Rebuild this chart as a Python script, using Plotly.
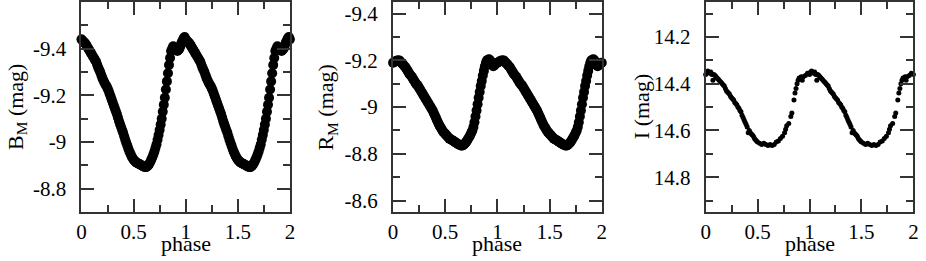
import plotly.graph_objects as go

# ---- data (one cycle; plotted twice over phase 0-2) ----
phase_BR = [0.00, 0.01, 0.02, 0.03, 0.04, 0.05, 0.06, 0.07, 0.08, 0.09,
            0.10, 0.11, 0.12, 0.13, 0.14, 0.15, 0.16, 0.17, 0.18, 0.19,
            0.20, 0.21, 0.22, 0.23, 0.24, 0.25, 0.26, 0.27, 0.28, 0.29,
            0.30, 0.31, 0.32, 0.33, 0.34, 0.35, 0.36, 0.37, 0.38, 0.39,
            0.40, 0.41, 0.42, 0.43, 0.44, 0.45, 0.46, 0.47, 0.48, 0.49,
            0.50, 0.51, 0.52, 0.53, 0.54, 0.55, 0.56, 0.57, 0.58, 0.59,
            0.60, 0.61, 0.62, 0.63, 0.64, 0.65, 0.66, 0.67, 0.68, 0.69,
            0.70, 0.71, 0.72, 0.73, 0.74, 0.75, 0.76, 0.77, 0.78, 0.79,
            0.80, 0.81, 0.82, 0.83, 0.84, 0.85, 0.86, 0.87, 0.88, 0.89,
            0.90, 0.91, 0.92, 0.93, 0.94, 0.95, 0.96, 0.97, 0.98, 0.99]
mag_B = [-9.44, -9.435, -9.43, -9.425, -9.42, -9.412, -9.405, -9.397, -9.39, -9.382,
         -9.375, -9.367, -9.36, -9.352, -9.345, -9.332, -9.32, -9.31, -9.30, -9.287,
         -9.275, -9.265, -9.255, -9.247, -9.24, -9.23, -9.22, -9.207, -9.195, -9.182,
         -9.17, -9.157, -9.145, -9.132, -9.12, -9.105, -9.09, -9.077, -9.065, -9.052,
         -9.04, -9.025, -9.01, -8.997, -8.985, -8.972, -8.96, -8.95, -8.94, -8.932,
         -8.925, -8.92, -8.915, -8.912, -8.91, -8.907, -8.905, -8.902, -8.90, -8.897,
         -8.895, -8.894, -8.893, -8.896, -8.90, -8.907, -8.915, -8.925, -8.935, -8.947,
         -8.96, -8.975, -8.99, -9.01, -9.03, -9.052, -9.075, -9.10, -9.13, -9.16,
         -9.19, -9.225, -9.26, -9.295, -9.33, -9.36, -9.39, -9.40, -9.41, -9.405,
         -9.40, -9.395, -9.39, -9.395, -9.40, -9.412, -9.425, -9.435, -9.445, -9.45]
mag_R = [-9.19, -9.192, -9.195, -9.197, -9.20, -9.20, -9.20, -9.195, -9.19, -9.185,
         -9.18, -9.175, -9.17, -9.162, -9.155, -9.147, -9.14, -9.135, -9.13, -9.122,
         -9.115, -9.107, -9.10, -9.095, -9.09, -9.082, -9.075, -9.067, -9.06, -9.052,
         -9.045, -9.037, -9.03, -9.022, -9.015, -9.007, -9.00, -8.992, -8.985, -8.975,
         -8.965, -8.955, -8.945, -8.935, -8.925, -8.917, -8.91, -8.902, -8.895, -8.89,
         -8.885, -8.88, -8.875, -8.87, -8.865, -8.862, -8.86, -8.857, -8.855, -8.851,
         -8.848, -8.845, -8.842, -8.84, -8.838, -8.836, -8.835, -8.837, -8.84, -8.845,
         -8.85, -8.857, -8.865, -8.872, -8.88, -8.89, -8.90, -8.915, -8.935, -8.96,
         -8.985, -9.012, -9.04, -9.065, -9.09, -9.112, -9.135, -9.155, -9.175, -9.19,
         -9.20, -9.203, -9.205, -9.20, -9.19, -9.18, -9.175, -9.178, -9.185, -9.188]

phase_I = [0.00, 0.01, 0.02, 0.03, 0.04, 0.05, 0.06, 0.07, 0.08, 0.09,
           0.10, 0.11, 0.12, 0.13, 0.14, 0.15, 0.16, 0.17, 0.18, 0.19,
           0.20, 0.21, 0.22, 0.23, 0.24, 0.25, 0.26, 0.27, 0.28, 0.29,
           0.30, 0.31, 0.32, 0.33, 0.34, 0.35, 0.36, 0.37, 0.38, 0.39,
           0.40, 0.41, 0.42, 0.43, 0.44, 0.45, 0.46, 0.47, 0.48, 0.49,
           0.50, 0.52, 0.54, 0.56, 0.58, 0.60, 0.62, 0.64, 0.66, 0.68,
           0.70, 0.72, 0.74, 0.76, 0.77, 0.78, 0.80, 0.82, 0.83, 0.85,
           0.86, 0.87, 0.88, 0.89, 0.90, 0.92, 0.93, 0.94, 0.96, 0.98]
mag_I = [14.36, 14.35, 14.345, 14.35, 14.355, 14.35, 14.36, 14.385, 14.36, 14.365,
         14.37, 14.375, 14.38, 14.385, 14.39, 14.395, 14.40, 14.405, 14.41, 14.42,
         14.43, 14.435, 14.44, 14.445, 14.455, 14.46, 14.465, 14.47, 14.48, 14.485,
         14.49, 14.50, 14.505, 14.515, 14.52, 14.535, 14.545, 14.555, 14.565, 14.575,
         14.585, 14.61, 14.60, 14.61, 14.615, 14.62, 14.625, 14.635, 14.64, 14.645,
         14.65, 14.655, 14.66, 14.655, 14.66, 14.665, 14.66, 14.665, 14.66, 14.65,
         14.645, 14.635, 14.625, 14.61, 14.595, 14.58, 14.57, 14.54, 14.525, 14.47,
         14.44, 14.42, 14.40, 14.385, 14.375, 14.37, 14.385, 14.37, 14.365, 14.355]

# ---- tick labels ----
x_tickvals = [0, 0.5, 1, 1.5, 2]
x_ticktext = ["0", "0.5", "1", "1.5", "2"]
x_minor = [0.25, 0.75, 1.25, 1.75]
B_tickvals = [-9.4, -9.2, -9.0, -8.8]
B_ticktext = ["-9.4", "-9.2", "-9", "-8.8"]
B_minor = [-9.5, -9.3, -9.1, -8.9]
R_tickvals = [-9.4, -9.2, -9.0, -8.8, -8.6]
R_ticktext = ["-9.4", "-9.2", "-9", "-8.8", "-8.6"]
R_minor = [-9.3, -9.1, -8.9, -8.7]
I_tickvals = [14.2, 14.4, 14.6, 14.8]
I_ticktext = ["14.2", "14.4", "14.6", "14.8"]
I_minor = [14.1, 14.3, 14.5, 14.7, 14.9]


def two_cycles(ph, mg):
    xs = list(ph) + [p + 1 for p in ph] + [2.0]
    ys = list(mg) + list(mg) + [mg[0]]
    return xs, ys


W, H = 926, 261
FONT = "Liberation Serif, Times New Roman, Times, serif"
LC = "#333333"

fig = go.Figure()
panels = [
    (phase_BR, mag_B, 10, "x", "y"),
    (phase_BR, mag_R, 10, "x2", "y2"),
    (phase_I, mag_I, 5, "x3", "y3"),
]
for ph, mg, ms, xa, ya in panels:
    xs, ys = two_cycles(ph, mg)
    fig.add_trace(go.Scatter(x=xs, y=ys, mode="markers", xaxis=xa, yaxis=ya,
                             marker=dict(color="black", size=ms, line=dict(width=0)),
                             cliponaxis=False, showlegend=False, hoverinfo="skip"))

x_px = [(77.3, 288.0), (392.3, 603.3), (708.3, 918.3)]
y_dom = [(H - 213) / H, (H - 2) / H]


def xaxis(i):
    return dict(domain=[x_px[i][0] / W, x_px[i][1] / W], range=[0, 2],
                anchor="y" if i == 0 else f"y{i+1}",
                tickmode="array", tickvals=x_tickvals, ticktext=x_ticktext,
                ticks="inside", ticklen=13, tickwidth=2, tickcolor=LC,
                minor=dict(tickmode="array", tickvals=x_minor, ticks="inside",
                           ticklen=7, tickwidth=2, tickcolor=LC, showgrid=False),
                showline=True, linecolor=LC, linewidth=2, mirror="ticks",
                showgrid=False, zeroline=False,
                tickfont=dict(family=FONT, size=21, color="black"))


def yaxis(i, rng, tv, tt, mn):
    return dict(domain=y_dom, range=rng,
                anchor="x" if i == 0 else f"x{i+1}",
                tickmode="array", tickvals=tv, ticktext=tt,
                ticks="inside", ticklen=13, tickwidth=2, tickcolor=LC,
                minor=dict(tickmode="array", tickvals=mn, ticks="inside",
                           ticklen=7, tickwidth=2, tickcolor=LC, showgrid=False),
                showline=True, linecolor=LC, linewidth=2, mirror="ticks",
                showgrid=False, zeroline=False, ticklabelstandoff=9,
                tickfont=dict(family=FONT, size=21, color="black"))


fig.update_layout(
    width=W, height=H, margin=dict(l=0, r=0, t=0, b=0),
    paper_bgcolor="white", plot_bgcolor="white",
    xaxis=xaxis(0), xaxis2=xaxis(1), xaxis3=xaxis(2),
    yaxis=yaxis(0, [-8.7, -9.6], B_tickvals, B_ticktext, B_minor),
    yaxis2=yaxis(1, [-8.55, -9.45], R_tickvals, R_ticktext, R_minor),
    yaxis3=yaxis(2, [14.95, 14.05], I_tickvals, I_ticktext, I_minor),
)

tfont = dict(family=FONT, size=22, color="black")
ann = []
for i in range(3):
    cx = (x_px[i][0] + x_px[i][1]) / 2
    ann.append(dict(text="phase", x=cx / W, y=(H - 244.5) / H, xref="paper", yref="paper",
                    xanchor="center", yanchor="middle", showarrow=False, font=tfont))
ytitles = ["B<sub>M</sub> (mag)", "R<sub>M</sub> (mag)", "I (mag)"]
ycent = [12, 326, 643]
for t, cx in zip(ytitles, ycent):
    ann.append(dict(text=t, x=cx / W, y=(H - 107.5) / H, xref="paper", yref="paper",
                    xanchor="center", yanchor="middle", showarrow=False, font=tfont,
                    textangle=-90))
fig.update_layout(annotations=ann)

fig.write_html("out.html", config={"displayModeBar": False},
               post_script="document.body.style.margin='0';document.body.style.padding='0';")
